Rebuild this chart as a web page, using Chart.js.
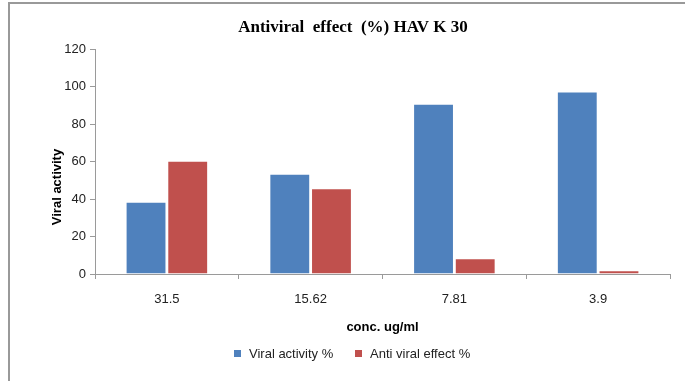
<!DOCTYPE html>
<html>
<head>
<meta charset="utf-8">
<script src="https://cdn.jsdelivr.net/npm/chart.js@4/dist/chart.umd.min.js"></script>
<style>
  html, body { margin: 0; padding: 0; background: #fff; }
  #wrap { width: 685px; height: 381px; position: relative; }
</style>
</head>
<body>
<div id="wrap"><canvas id="grafico" width="685" height="381"></canvas></div>
<script>
// --- DADOS ---
const concentracoes = ['31.5', '15.62', '7.81', '3.9'];
const atividadeViral = [38.6, 53.5, 90.8, 97.4];
const efeitoAntiviral = [60.4, 45.7, 8.4, 2.0];
const ticksY = [0, 20, 40, 60, 80, 100, 120];

const AZUL = '#4F81BD';
const VERMELHO = '#C0504D';
const FONTE = '"Liberation Sans", Arial, sans-serif';

// textos e moldura desenhados por cima do grafico
const textosExtras = {
    id: 'textosExtras',
    afterDraw(chart) {
        const ctx = chart.ctx;
        const area = chart.chartArea;
        ctx.save();

        // moldura (esquerda e topo)
        ctx.strokeStyle = '#999';
        ctx.lineWidth = 2;
        ctx.beginPath();
        ctx.moveTo(9, 381);
        ctx.lineTo(9, 3);
        ctx.lineTo(685, 3);
        ctx.stroke();

        // titulo
        ctx.fillStyle = '#000';
        ctx.font = 'bold 17px "Liberation Serif", "Times New Roman", serif';
        ctx.textAlign = 'center';
        ctx.textBaseline = 'middle';
        ctx.fillText('Antiviral  effect  (%) HAV K 30', 353, 28);

        // titulo eixo Y
        ctx.font = 'bold 13px ' + FONTE;
        ctx.save();
        ctx.translate(57, 187);
        ctx.rotate(-Math.PI / 2);
        ctx.fillText('Viral activity', 0, 0);
        ctx.restore();

        // titulo eixo X
        ctx.fillText('conc. ug/ml', (area.left + area.right) / 2, 327);

        // legenda
        ctx.font = '13px ' + FONTE;
        ctx.textAlign = 'left';
        const itens = [
            { cor: AZUL, texto: 'Viral activity %', x: 234 },
            { cor: VERMELHO, texto: 'Anti viral effect %', x: 355 }
        ];
        itens.forEach(it => {
            ctx.fillStyle = it.cor;
            ctx.fillRect(it.x, 350, 7, 7);
            ctx.fillStyle = '#222';
            ctx.fillText(it.texto, it.x + 15, 354);
        });
        ctx.restore();
    }
};

const ctx = document.getElementById('grafico').getContext('2d');
new Chart(ctx, {
    type: 'bar',
    data: {
        labels: concentracoes,
        datasets: [
            {
                label: 'Viral activity %',
                data: atividadeViral,
                backgroundColor: AZUL,
                borderColor: 'rgba(255,255,255,0.9)',
                borderWidth: 1,
                categoryPercentage: 0.58,
                barPercentage: 0.98
            },
            {
                label: 'Anti viral effect %',
                data: efeitoAntiviral,
                backgroundColor: VERMELHO,
                borderColor: 'rgba(255,255,255,0.9)',
                borderWidth: 1,
                categoryPercentage: 0.58,
                barPercentage: 0.98
            }
        ]
    },
    options: {
        responsive: false,
        animation: false,
        layout: { padding: { left: 0, top: 49, right: 15, bottom: 0 } },
        plugins: {
            legend: { display: false },
            title: { display: false },
            tooltip: { enabled: false }
        },
        scales: {
            x: {
                afterFit: (s) => { s.height = 107; },
                border: { color: '#9a9a9a', width: 1 },
                grid: { display: true, drawOnChartArea: false, drawTicks: true, tickLength: 5, offset: true, color: '#9a9a9a' },
                ticks: { color: '#222', font: { family: FONTE, size: 13 }, padding: 13, maxRotation: 0 }
            },
            y: {
                min: 0,
                max: 120,
                afterFit: (s) => { s.width = 95; },
                afterBuildTicks: (s) => { s.ticks = ticksY.map(v => ({ value: v })); },
                border: { color: '#9a9a9a', width: 1 },
                grid: { display: true, drawOnChartArea: false, drawTicks: true, tickLength: 5, color: '#9a9a9a' },
                ticks: { color: '#222', font: { family: FONTE, size: 13 }, padding: 4 }
            }
        }
    },
    plugins: [textosExtras]
});
</script>
</body>
</html>
